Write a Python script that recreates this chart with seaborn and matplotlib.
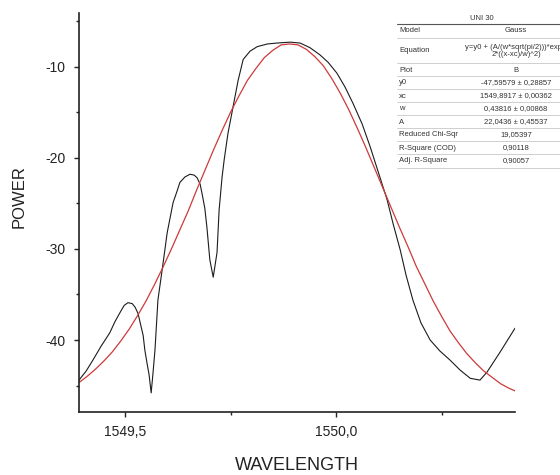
import numpy as np
import pandas as pd
import matplotlib
matplotlib.use("Agg")
import matplotlib.pyplot as plt
from matplotlib.lines import Line2D
from matplotlib.ticker import FuncFormatter, MultipleLocator
import seaborn as sns

# measured spectrum (black trace)
wl_meas = [1549.391, 1549.408, 1549.424, 1549.443, 1549.464, 1549.476, 1549.488,
           1549.498, 1549.507, 1549.517, 1549.524, 1549.531, 1549.536, 1549.543,
           1549.547, 1549.552, 1549.557, 1549.562, 1549.566, 1549.571, 1549.578,
           1549.588, 1549.600, 1549.614, 1549.623, 1549.630, 1549.642, 1549.654,
           1549.664, 1549.671, 1549.678, 1549.682, 1549.689, 1549.694, 1549.701,
           1549.709, 1549.718, 1549.723, 1549.730, 1549.735, 1549.744, 1549.756,
           1549.768, 1549.780, 1549.796, 1549.813, 1549.837, 1549.860, 1549.891,
           1549.915, 1549.938, 1549.962, 1549.981, 1550.002, 1550.021, 1550.040,
           1550.062, 1550.081, 1550.121, 1550.135, 1550.152, 1550.166, 1550.182,
           1550.201, 1550.223, 1550.246, 1550.270, 1550.294, 1550.318, 1550.341,
           1550.358, 1550.389, 1550.424]
pw_meas = [-44.4, -43.4, -42.2, -40.7, -39.2, -38.0, -37.0,
           -36.2, -35.9, -36.0, -36.4, -37.1, -38.1, -39.5,
           -41.1, -42.5, -43.8, -45.8, -43.8, -41.1, -35.6,
           -32.3, -28.2, -24.9, -23.7, -22.7, -22.1, -21.8,
           -21.9, -22.2, -22.9, -23.8, -25.5, -27.6, -31.2,
           -33.1, -30.4, -25.7, -22.1, -20.2, -17.3, -14.4,
           -11.5, -9.2, -8.3, -7.8, -7.5, -7.4, -7.3,
           -7.4, -7.9, -8.7, -9.5, -10.7, -12.2, -14.0,
           -16.3, -18.8, -24.6, -27.2, -30.1, -32.9, -35.6,
           -38.1, -40.0, -41.2, -42.2, -43.3, -44.2, -44.4,
           -43.5, -41.3, -38.7]

# gauss fit (red trace)
wl_fit = [1549.39, 1549.41, 1549.43, 1549.45, 1549.47, 1549.49, 1549.51,
          1549.53, 1549.55, 1549.57, 1549.59, 1549.61, 1549.63, 1549.65,
          1549.67, 1549.69, 1549.71, 1549.73, 1549.75, 1549.77, 1549.79,
          1549.81, 1549.83, 1549.85, 1549.87, 1549.89, 1549.91, 1549.93,
          1549.95, 1549.97, 1549.99, 1550.01, 1550.03, 1550.05, 1550.07,
          1550.09, 1550.11, 1550.13, 1550.15, 1550.17, 1550.19, 1550.21,
          1550.23, 1550.25, 1550.27, 1550.29, 1550.31, 1550.33, 1550.35,
          1550.37, 1550.39, 1550.41, 1550.43]
pw_fit = [-44.7, -44.0, -43.2, -42.3, -41.3, -40.1, -38.8,
          -37.3, -35.7, -33.9, -32.0, -30.0, -27.9, -25.8,
          -23.5, -21.3, -19.1, -17.0, -15.0, -13.2, -11.5,
          -10.2, -9.0, -8.2, -7.6, -7.5, -7.6, -8.1,
          -8.9, -9.9, -11.3, -12.9, -14.7, -16.7, -18.8,
          -21.0, -23.2, -25.4, -27.6, -29.7, -31.9, -33.8,
          -35.7, -37.4, -39.0, -40.3, -41.5, -42.5, -43.4,
          -44.1, -44.8, -45.3, -45.7]

# fit report table
table_title = "UNI 30"
table_keys = ["Model", "Equation", "Plot", "y0", "xc", "w", "A",
              "Reduced Chi-Sqr", "R-Square (COD)", "Adj. R-Square"]
table_vals = ["Gauss", "y=y0 + (A/(w*sqrt(pi/2)))*exp(-\n2*((x-xc)/w)^2)", "B",
              "-47,59579 ± 0,28857", "1549,8917 ± 0,00362", "0,43816 ± 0,00868",
              "22,0436 ± 0,45537", "19,05397", "0,90118", "0,90057"]

meas = pd.DataFrame({"wl": wl_meas, "pw": pw_meas})
fit = pd.DataFrame({"wl": wl_fit, "pw": pw_fit})

sns.set_style("ticks")
plt.rcParams["font.family"] = ["Liberation Sans", "DejaVu Sans"]
plt.rcParams["axes.unicode_minus"] = False

W, H = 560, 475
fig = plt.figure(figsize=(W / 100, H / 100), dpi=100)
ax = fig.add_axes([79 / W, 1 - 412 / H, 436 / W, 399 / H])

sns.lineplot(data=meas, x="wl", y="pw", ax=ax, color="#1c1c1c", lw=0.8,
             estimator=None, sort=False)
sns.lineplot(data=fit, x="wl", y="pw", ax=ax, color="#cc3a3a", lw=0.9,
             estimator=None, sort=False)

ax.set_xlim(1549.391, 1550.424)
ax.set_ylim(-47.9, -4.1)
sns.despine(ax=ax)
for s in ["left", "bottom"]:
    ax.spines[s].set_linewidth(1.2)
    ax.spines[s].set_color("#222222")

ax.xaxis.set_major_locator(MultipleLocator(0.5))
ax.xaxis.set_minor_locator(MultipleLocator(0.25))
ax.yaxis.set_major_locator(MultipleLocator(10))
ax.yaxis.set_minor_locator(MultipleLocator(5))
ax.xaxis.set_major_formatter(FuncFormatter(lambda v, p: f"{v:.1f}".replace(".", ",")))
ax.yaxis.set_major_formatter(FuncFormatter(lambda v, p: f"{v:.0f}"))
ax.tick_params(which="major", length=3.6, width=1.0, pad=6, labelsize=10,
               colors="#222222")
ax.tick_params(which="minor", length=2.2, width=1.0, colors="#222222")

ax.set_xlabel("WAVELENGTH", fontsize=13, color="#222222")
ax.set_ylabel("POWER", fontsize=12, color="#222222")
ax.xaxis.set_label_coords(0.5, -0.113)
ax.yaxis.set_label_coords(-0.12, 0.54)

# fit report table in the upper right
def fx(px):
    return px / W

def fy(py):
    return 1 - py / H

x_key, x_val, x0, x1 = 399, 516, 397, 575
fig.text(fx(482), fy(18), table_title, fontsize=5.5, ha="center", va="center",
         color="#333333")
fig.add_artist(Line2D([fx(x0), fx(x1)], [fy(24), fy(24)], color="#555555", lw=0.8,
                      transform=fig.transFigure))
row_y = [31, 51, 70, 83, 96, 109, 122, 135, 148, 161]
line_y = [38, 63, 76, 89, 102, 115, 128, 141, 154, 168]
for key, val, ry, ly in zip(table_keys, table_vals, row_y, line_y):
    fig.text(fx(x_key), fy(ry), key, fontsize=5.5, ha="left", va="center",
             color="#333333")
    fig.text(fx(x_val), fy(ry), val, fontsize=5.5, ha="center", va="center",
             color="#333333", linespacing=1.1)
    fig.add_artist(Line2D([fx(x0), fx(x1)], [fy(ly), fy(ly)], color="#c8c8c8",
                          lw=0.6, transform=fig.transFigure))

fig.savefig("out.png", dpi=100)
